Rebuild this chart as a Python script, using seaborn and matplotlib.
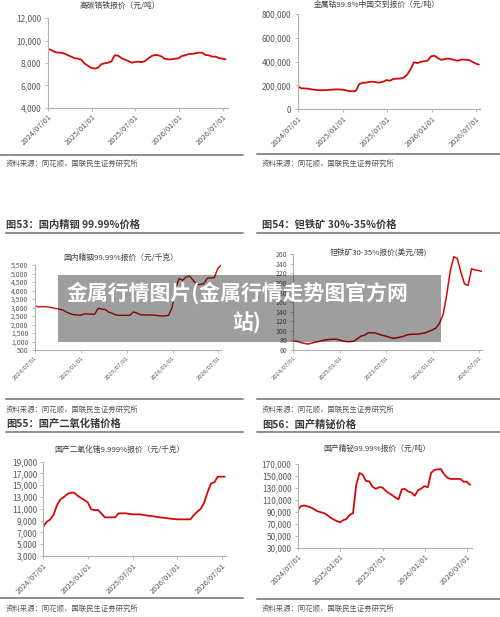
import numpy as np
import pandas as pd
import matplotlib
matplotlib.use('Agg')
import matplotlib.pyplot as plt
import matplotlib.dates as mdates
from matplotlib.ticker import FuncFormatter, FixedLocator
from matplotlib.patches import Rectangle
from matplotlib.lines import Line2D
import seaborn as sns

# ---------------- data (14-day steps from 2024/07/01) ----------------
chrome_title = "高碳铬铁报价（元/吨）"
chrome_vals = [9250, 9180, 9000, 8930, 8920, 8850, 8700, 8570, 8430, 8390,
               8300, 7950, 7750, 7550, 7500, 7580, 7900, 7970, 8030, 8150,
               8700, 8650, 8430, 8300, 8180, 8030, 8090, 8120, 8070, 8180,
               8420, 8630, 8720, 8690, 8570, 8360, 8330, 8330, 8390, 8420,
               8630, 8690, 8810, 8810, 8870, 8920, 8920, 8720, 8690, 8570,
               8570, 8450, 8390, 8330]

cobalt_title = "金属钴99.8%中国交到报价（元/吨）"
cobalt_vals = [196000, 176000, 175000, 173000, 168000, 164000, 161000, 160000, 161000, 163000,
               165000, 167000, 167000, 165000, 160000, 153000, 151000, 155000, 212000, 222000,
               224000, 230000, 232000, 226000, 224000, 232000, 245000, 240000, 255000, 257000,
               258000, 266000, 290000, 335000, 395000, 388000, 398000, 404000, 408000, 445000,
               450000, 430000, 415000, 422000, 426000, 421000, 412000, 408000, 418000, 416000,
               414000, 400000, 385000, 375000]

indium_title = "国内精铟99.99%报价（元/千克）"
indium_vals = [3100, 3030, 3050, 3050, 3020, 2980, 2940, 2900, 2850, 2730,
               2640, 2580, 2560, 2540, 2620, 2620, 2610, 2600, 2950, 2910,
               2880, 2730, 2660, 2560, 2540, 2540, 2540, 2540, 2740, 2670,
               2580, 2560, 2560, 2560, 2550, 2520, 2500, 2500, 2540, 3000,
               4130, 4700, 4600, 4800, 4850, 4600, 4350, 4350, 4400, 4720,
               4740, 4760, 5300, 5500]

tantal_title = "钽铁矿30-35%报价(美元/磅)"
tantal_vals = [79, 78, 76, 74, 72.5, 74, 76, 77.5, 79.5, 81,
               82, 82.5, 82.5, 81, 78.5, 77.5, 77.5, 78.5, 84, 89,
               91, 96, 96, 95.5, 93, 90.5, 89, 86.5, 84.5, 85.5,
               87, 89, 92, 92.8, 93, 93.4, 94.5, 96, 99, 102,
               106, 116, 134, 175, 225, 255, 251, 222, 198, 195,
               230, 227, 226, 224]

german_title = "国产二氧化锗9.999%报价（元/千克）"
german_vals = [7980, 8800, 9200, 10000, 11600, 12600, 13000, 13500, 13740, 13740,
               13250, 12850, 12500, 12100, 10900, 10800, 10800, 10200, 9560, 9560,
               9560, 9560, 10240, 10240, 10240, 10150, 10070, 10070, 10070, 10000,
               9900, 9800, 9750, 9650, 9560, 9500, 9430, 9350, 9280, 9230,
               9220, 9220, 9220, 9220, 9950, 10500, 11000, 12000, 13800, 15300,
               15500, 16460, 16460, 16460]

bismuth_title = "国产精铋99.99%报价（元/吨）"
bismuth_vals = [93000, 99500, 100500, 99000, 97500, 94500, 91000, 89500, 88000, 85000,
                80500, 77500, 74500, 72400, 76000, 78000, 85000, 87500, 135000, 155000,
                152000, 141600, 141000, 132000, 128500, 131000, 131000, 125500, 121500, 118000,
                114000, 111000, 127600, 128200, 124000, 122000, 117000, 126000, 129000, 133000,
                131000, 155000, 160000, 161000, 161600, 153000, 147000, 145000, 145000, 145000,
                145000, 140400, 140400, 135000]

tick_dates = ["2024/07/01", "2025/01/01", "2025/07/01", "2026/01/01", "2026/07/01"]

fig_titles = ["图53：国内精铟 99.99%价格", "图54：钽铁矿 30%-35%价格",
              "图55：国产二氧化锗价格", "图56：国产精铋价格"]
source_text = "资料来源：同花顺，国联民生证券研究所"
banner_line1 = "金属行情图片(金属行情走势图官方网"
banner_line2 = "站)"

# ---------------- style ----------------
W, H = 500, 617
sns.set_style("ticks")
plt.rcParams['font.family'] = ['Noto Sans CJK SC', 'DejaVu Sans']

RED = '#d20a0a'
AXC = '#b0b0b0'
TXT = '#595959'

fig = plt.figure(figsize=(W / 100, H / 100), dpi=100)
fig.patch.set_facecolor('white')


def fx(x):
    return x / W


def fy(y):
    return 1 - y / H


def ftext(x, y, s, **kw):
    fig.text(fx(x), fy(y), s, **kw)


def hline(y, x0, x1, color='#8c8c8c', lw=1.4):
    fig.add_artist(Line2D([fx(x0), fx(x1)], [fy(y), fy(y)], color=color, lw=lw,
                          transform=fig.transFigure))


start = pd.Timestamp("2024-07-01")
ticks = pd.to_datetime(tick_dates, format="%Y/%m/%d")


def chart(vals, box, tfirst, tlast, ylim, ystep, title, title_xy,
          yfs=6, xfs=5.5, lw=1.3):
    l, t, r, b = box
    ax = fig.add_axes([fx(l), fy(b), (r - l) / W, (b - t) / H])
    dates = pd.date_range(start, periods=len(vals), freq="14D")
    df = pd.DataFrame({"date": dates, "value": vals})
    sns.lineplot(data=df, x="date", y="value", ax=ax, color=RED, linewidth=lw)
    dpp = 730.0 / (tlast - tfirst)
    ax.set_xlim(start - pd.Timedelta(days=(tfirst - l) * dpp),
                start + pd.Timedelta(days=(r - tfirst) * dpp))
    ax.set_ylim(*ylim)
    ax.yaxis.set_major_locator(FixedLocator(np.arange(ylim[0], ylim[1] + ystep / 2, ystep)))
    ax.yaxis.set_major_formatter(FuncFormatter(lambda v, p: f"{v:,.0f}"))
    ax.set_xticks(ticks)
    ax.xaxis.set_major_formatter(mdates.DateFormatter("%Y/%m/%d"))
    ax.set_xlabel("")
    ax.set_ylabel("")
    for s in ["top", "right"]:
        ax.spines[s].set_visible(False)
    for s in ["left", "bottom"]:
        ax.spines[s].set_color(AXC)
        ax.spines[s].set_linewidth(0.8)
    ax.tick_params(axis='y', colors=AXC, labelcolor=TXT, labelsize=yfs,
                   length=2.5, width=0.6, pad=2)
    ax.tick_params(axis='x', colors=AXC, labelcolor=TXT, labelsize=xfs,
                   length=2.5, width=0.6, pad=1.5)
    for lab in ax.get_xticklabels():
        lab.set_rotation(45)
        lab.set_ha('right')
        lab.set_va('top')
        lab.set_rotation_mode('anchor')
    ax.set_facecolor('none')
    ftext(title_xy[0], title_xy[1], title, ha='center', va='center',
          fontsize=5.6, color='#404040')
    return ax


# top row
chart(chrome_vals, (47.7, 18.3, 227.7, 107.7), 47.7, 222.7, (4000, 12000), 2000,
      chrome_title, (120, 6))
chart(cobalt_vals, (297.7, 14, 480, 109.3), 297.7, 476, (0, 800000), 200000,
      cobalt_title, (377, 5))
# middle row
chart(indium_vals, (34.8, 265, 220.7, 350), 34.8, 218.3, (500, 5500), 500,
      indium_title, (121, 258.3), yfs=5, xfs=4.3, lw=1.0)
chart(tantal_vals, (293.3, 254.3, 482.3, 350), 293.3, 479.3, (60, 260), 20,
      tantal_title, (378, 252.7), yfs=5, xfs=4.3, lw=1.1)
# bottom row
chart(german_vals, (43.3, 461.7, 226, 556), 43.3, 221.7, (3000, 19000), 2000,
      german_title, (120, 449.3))
chart(bismuth_vals, (297.7, 464, 471.7, 547.7), 297.7, 467.3, (30000, 170000), 20000,
      bismuth_title, (377, 449.3))

# separators
hline(155, 0, 243)
hline(154.3, 257, 500)
hline(232.7, 6, 243)
hline(233.3, 257, 500)
hline(399.3, 6, 243)
hline(399.3, 257, 500)
hline(431.7, 6, 243)
hline(432.3, 257, 500)
hline(598.3, 0, 243)
hline(599, 257, 500)

# source lines
for (x, y) in [(6, 164), (262, 164), (6, 410), (262, 410), (6, 609), (262, 609)]:
    ftext(x, y, source_text, ha='left', va='center', fontsize=5.3, color=TXT)

# figure titles
for (x, y), s in zip([(6, 224.5), (262.5, 224.5), (6, 424), (262.5, 424.5)], fig_titles):
    ftext(x, y, s, ha='left', va='center', fontsize=7.4, fontweight='bold', color='#3a3a3a')

# overlay banner
fig.add_artist(Rectangle((fx(58.3), fy(341.7)), (441 - 58.3) / W, (341.7 - 275) / H,
                         transform=fig.transFigure, facecolor='black', alpha=0.38,
                         edgecolor='none', zorder=20))
fig.text(fx(66.7), fy(292.7), banner_line1, ha='left', va='center', fontsize=15,
         fontweight='bold', color='white', zorder=21)
fig.text(fx(231.7), fy(323.3), banner_line2, ha='left', va='center', fontsize=15,
         fontweight='bold', color='white', zorder=21)

fig.savefig("out.png", dpi=100, facecolor='white')
